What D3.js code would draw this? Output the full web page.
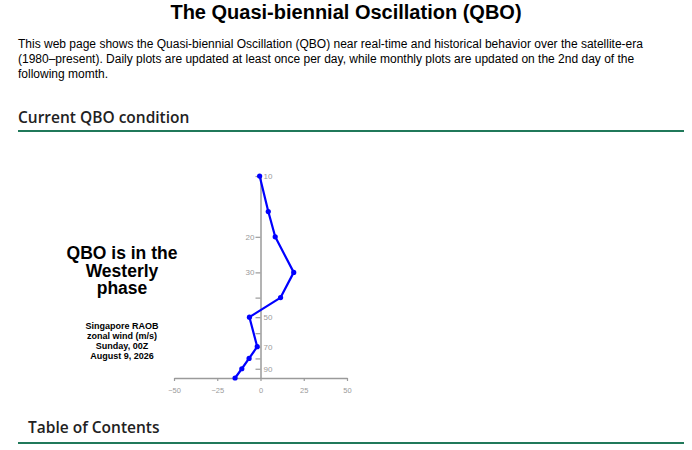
<!DOCTYPE html>
<html>
<head>
<meta charset="utf-8">
<script src="https://cdn.jsdelivr.net/npm/d3@7"></script>
<style>
  body { margin: 0; background: #fff; font-family: Arial, "Liberation Sans", sans-serif; }
  .page { position: relative; width: 692px; height: 450px; overflow: hidden; }
  .title { position: absolute; left: 0; width: 692px; top: 0; text-align: center; font-size: 20px; font-weight: bold; line-height: 24px; color: #000; }
  .intro { position: absolute; left: 18px; top: 37px; font-size: 12px; line-height: 15px; color: #000; white-space: nowrap; }
  .head { position: absolute; font-family: "Open Sans", sans-serif; font-weight: 600; font-size: 15.5px; line-height: 20px; color: #222; }
  .rule { position: absolute; left: 18px; width: 666px; height: 2px; background: #20795a; }
  svg { position: absolute; left: 0; top: 0; }
</style>
</head>
<body>
<div class="page">
  <div class="title">The Quasi-biennial Oscillation (QBO)</div>
  <div class="intro">This web page shows the Quasi-biennial Oscillation (QBO) near real-time and historical behavior over the satellite-era<br>(1980&ndash;present). Daily plots are updated at least once per day, while monthly plots are updated on the 2nd day of the<br>following momth.</div>
  <div class="head" style="left:18px; top:107px;">Current QBO condition</div>
  <div class="rule" style="top:130px;"></div>
  <div class="head" style="left:28px; top:417px;">Table of Contents</div>
  <div class="rule" style="top:442px;"></div>
  <div class="chart"></div>
</div>
<script>
// Singapore RAOB zonal wind profile (hPa, m/s)
var levels = [10, 15, 20, 30, 40, 50, 70, 80, 90, 100];
var wind = [-0.5, 4.5, 8.5, 19.2, 11.6, -6.4, -1.9, -6.6, -10.8, -14.7];

var yTicks = [10, 20, 30, 40, 50, 60, 70, 80, 90];
var yLabels = [10, 20, 30, 50, 70, 90];
var xTicks = [-50, -25, 0, 25, 50];

var phaseLines = ["QBO is in the", "Westerly", "phase"];
var infoLines = ["Singapore RAOB", "zonal wind (m/s)", "Sunday, 00Z", "August 9, 2026"];

var svg = d3.select(".chart")
            .append("svg")
            .attr("width", 692)
            .attr("height", 450)

var x = d3.scaleLinear().domain([-50, 50]).range([174, 347]);
var y = d3.scaleLog().domain([10, 100]).range([176, 378]);
var grey = "#9a9a9a";

// x axis along the bottom
var xAxis = svg.append("g")
    .attr("transform", "translate(0," + y(100) + ")")
    .call(d3.axisBottom(x).tickValues(xTicks).tickSize(3).tickSizeOuter(0).tickFormat(d3.format("d")))
xAxis.select(".domain").attr("stroke", grey).attr("stroke-width", 1.5)
xAxis.selectAll(".tick line").attr("stroke", grey).attr("stroke-width", 1.2)
xAxis.selectAll("text")
    .attr("fill", grey)
    .attr("y", 10)
    .style("font-family", "Arial, 'Liberation Sans', sans-serif")
    .style("font-size", "7.5px")

// y axis drawn at zero wind
var yAxis = svg.append("g")
    .attr("transform", "translate(" + x(0) + ",0)")
    .call(d3.axisLeft(y).tickValues(yTicks).tickSize(5).tickSizeOuter(0).tickFormat(""))
yAxis.select(".domain").attr("stroke", grey).attr("stroke-width", 1.5)
yAxis.selectAll(".tick line").attr("stroke", grey).attr("stroke-width", 1.2)

// labels go on the side away from the profile
function windAt(p) {
  for (var i = 0; i < levels.length - 1; i++) {
    if (p >= levels[i] && p <= levels[i + 1]) {
      var t = (Math.log(p) - Math.log(levels[i])) / (Math.log(levels[i + 1]) - Math.log(levels[i]));
      return wind[i] + t * (wind[i + 1] - wind[i]);
    }
  }
  return 0;
}

svg.append("g")
    .selectAll("text")
    .data(yLabels)
    .enter()
    .append("text")
    .attr("x", function(d) { return windAt(d) > 0 ? x(0) - 6 : x(0) + 3; })
    .attr("y", function(d) { return y(d); })
    .attr("dy", "0.35em")
    .attr("text-anchor", function(d) { return windAt(d) > 0 ? "end" : "start"; })
    .attr("fill", grey)
    .style("font-family", "Arial, 'Liberation Sans', sans-serif")
    .style("font-size", "8px")
    .text(function(d) { return d; })

// wind profile
var line = d3.line()
    .x(function(d, i) { return x(wind[i]); })
    .y(function(d) { return y(d); })

svg.append("path")
    .datum(levels)
    .attr("d", line)
    .attr("fill", "none")
    .attr("stroke", "#0000ff")
    .attr("stroke-width", 2.2)
    .attr("stroke-linejoin", "round")

svg.append("g")
    .selectAll("circle")
    .data(levels)
    .enter()
    .append("circle")
    .attr("cx", function(d, i) { return x(wind[i]); })
    .attr("cy", function(d) { return y(d); })
    .attr("r", 2.6)
    .style("fill", "#0000ff")

// text block on the left
svg.append("g")
    .selectAll("text")
    .data(phaseLines)
    .enter()
    .append("text")
    .attr("x", 122)
    .attr("y", function(d, i) { return 259 + i * 17.7; })
    .attr("text-anchor", "middle")
    .style("font-family", "Arial, 'Liberation Sans', sans-serif")
    .style("font-weight", "bold")
    .style("font-size", "17.5px")
    .text(function(d) { return d; })

svg.append("g")
    .selectAll("text")
    .data(infoLines)
    .enter()
    .append("text")
    .attr("x", 122)
    .attr("y", function(d, i) { return 329 + i * 10; })
    .attr("text-anchor", "middle")
    .style("font-family", "Arial, 'Liberation Sans', sans-serif")
    .style("font-weight", "bold")
    .style("font-size", "9px")
    .text(function(d) { return d; })
</script>
</body>
</html>
